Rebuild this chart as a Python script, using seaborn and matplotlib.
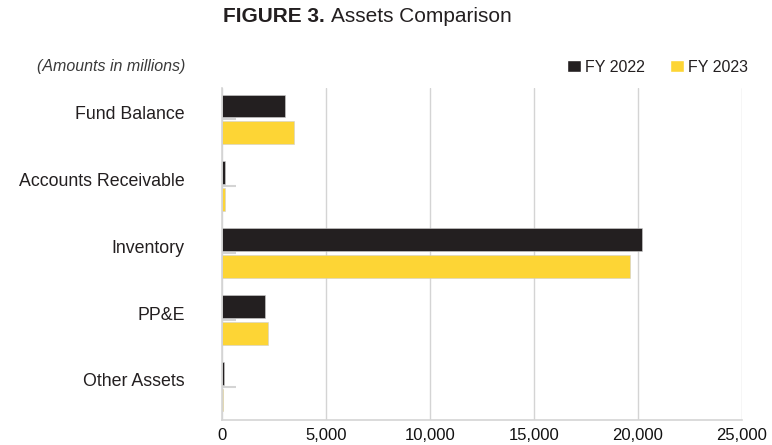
import matplotlib
matplotlib.use("Agg")
import matplotlib.pyplot as plt
import seaborn as sns
import pandas as pd
from matplotlib.patches import Patch

categories = ["Fund Balance", "Accounts Receivable", "Inventory", "PP&E", "Other Assets"]
fy2022 = [3030, 150, 20200, 2070, 80]
fy2023 = [3460, 140, 19620, 2200, 50]
series = ["FY 2022", "FY 2023"]
x_ticks = [0, 5000, 10000, 15000, 20000, 25000]

DARK = "#231f20"
YELLOW = "#fdd535"
GRID = "#d4d4d4"

df = pd.DataFrame({
    "category": categories * 2,
    "value": fy2022 + fy2023,
    "year": [series[0]] * len(categories) + [series[1]] * len(categories),
})

sns.set_theme(style="white")
plt.rcParams["font.family"] = ["Liberation Sans", "DejaVu Sans"]

fig = plt.figure(figsize=(7.72, 4.45), dpi=100)
ax = fig.add_axes([222 / 772, 1 - 420 / 445, 520 / 772, (420 - 88) / 445])

sns.barplot(data=df, y="category", x="value", hue="year", order=categories,
            hue_order=series, palette=[DARK, YELLOW], saturation=1, orient="h",
            width=0.8, gap=0.15, edgecolor="#cfcfcf", linewidth=0.4,
            legend=False, ax=ax)

ax.set_xlim(0, 25000)
ax.set_ylim(4.5, -0.47)
ax.set_xticks(x_ticks)
ax.set_xticklabels([f"{v:,}" for v in x_ticks], fontsize=12, color="#111111")

# short gray marks at each group centre, labels sit slightly above them
n = len(categories)
ax.set_yticks([i - 0.1 for i in range(n)])
ax.set_yticklabels(categories, fontsize=12.8, color=DARK)
ax.set_yticks(range(n), minor=True)
ax.tick_params(axis="y", which="major", left=True, length=0, pad=27)
ax.tick_params(axis="y", which="minor", left=True, direction="in", length=10,
               width=1.5, color=GRID)
ax.set_xlabel("")
ax.set_ylabel("")

ax.xaxis.grid(True, color=GRID, linewidth=1)
ax.set_axisbelow(True)
ax.tick_params(axis="x", length=0, pad=6)
for side in ["top", "right"]:
    ax.spines[side].set_visible(False)
for side in ["left", "bottom"]:
    ax.spines[side].set_color(GRID)
    ax.spines[side].set_linewidth(1.2)

fig.text(325 / 772, 1 - 17 / 445, "FIGURE 3.", ha="right", va="center",
         fontsize=15, fontweight="bold", color=DARK)
fig.text(331 / 772, 1 - 17 / 445, "Assets Comparison", ha="left", va="center",
         fontsize=15, color=DARK)
fig.text(37 / 772, 1 - 67 / 445, "(Amounts in millions)", ha="left", va="center",
         fontsize=11.5, fontstyle="italic", color="#3a3a3a")

handles = [Patch(facecolor=DARK, label=series[0]), Patch(facecolor=YELLOW, label=series[1])]
fig.legend(handles=handles, loc="center right", bbox_to_anchor=(762 / 772, 1 - 67 / 445),
           ncol=2, frameon=False, fontsize=11.5, handlelength=0.85, handleheight=0.85,
           handletextpad=0.25, columnspacing=1.6, labelcolor=DARK)

fig.savefig("out.png", dpi=100)
